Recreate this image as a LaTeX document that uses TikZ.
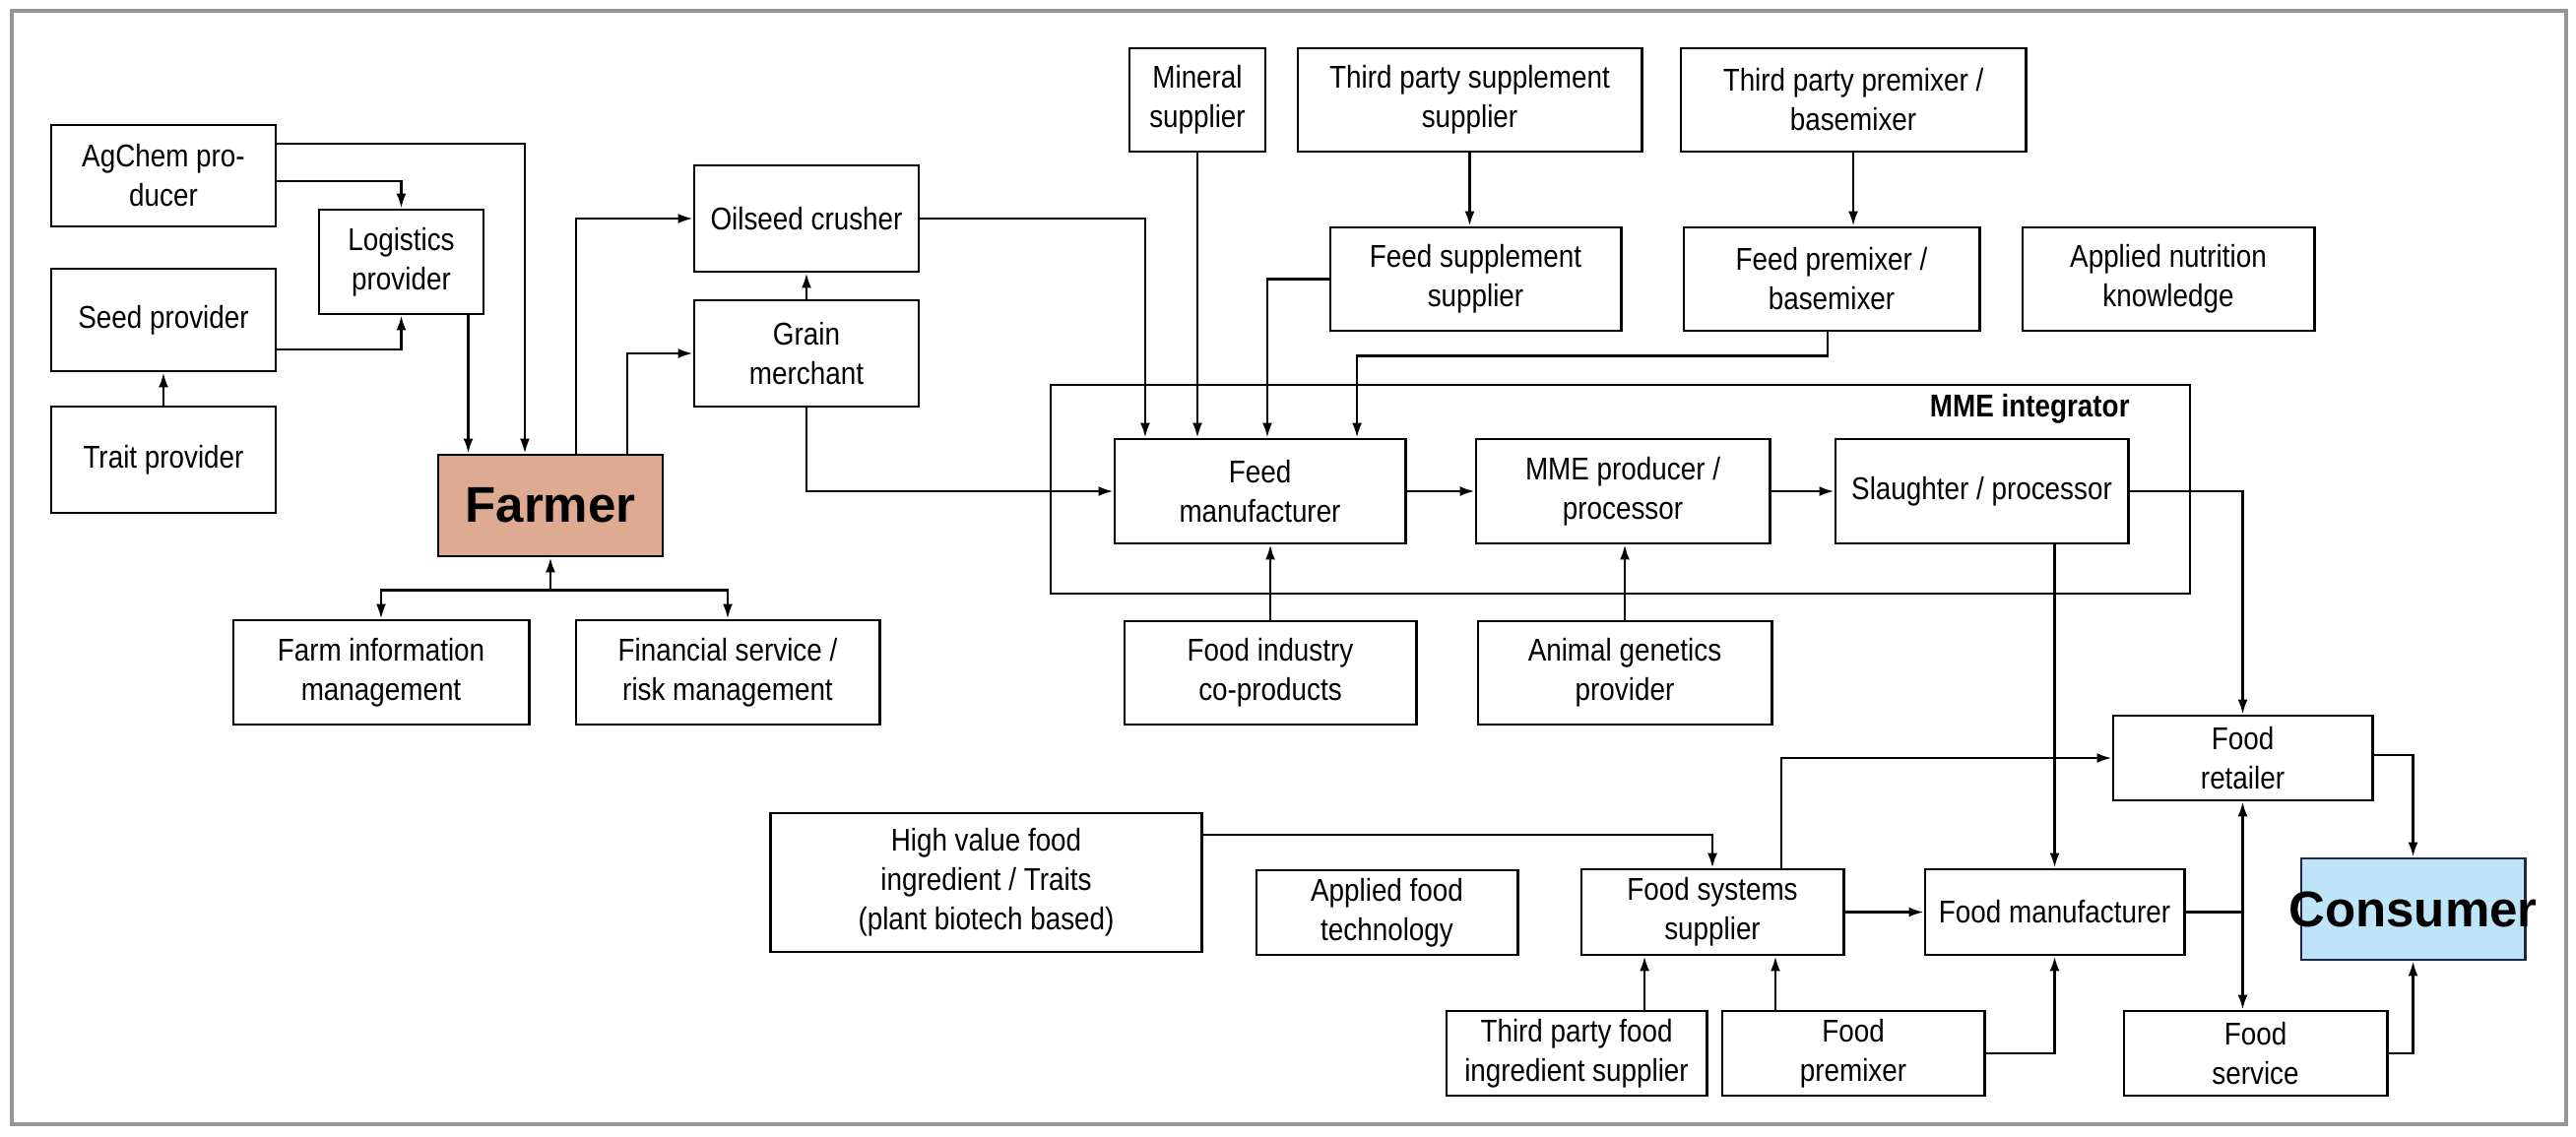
\documentclass[tikz,border=0pt]{standalone}
\usepackage{fontspec}
\setmainfont{Liberation Sans}[FakeStretch=0.87]
\newfontfamily\widesans{Liberation Sans}
\usetikzlibrary{arrows.meta}

\definecolor{farmerfill}{RGB}{222,170,145}
\definecolor{consumerfill}{RGB}{190,228,248}
\definecolor{consumerline}{RGB}{30,40,70}
\definecolor{framegray}{RGB}{150,150,150}

\tikzset{
  box/.style={draw, line width=0.8pt, align=center, inner sep=1pt,
    font=\fontsize{9.1}{11.4}\selectfont},
  sz/.style 2 args={minimum width=#1cm, minimum height=#2cm},
  arr/.style={-{Latex[length=1.5mm,width=1mm]}, line width=0.7pt},
  arrs/.style={{Latex[length=1.5mm,width=1mm]}-{Latex[length=1.5mm,width=1mm]}, line width=0.7pt},
  bigword/.style={font=\widesans\bfseries\fontsize{14.5}{17}\selectfont}
}

\begin{document}
\begin{tikzpicture}[x=0.01cm,y=-0.01cm]
  \useasboundingbox (0,0) rectangle (2616,1154);
  \draw[framegray, line width=1.2pt] (12,11) rectangle (2606,1142);

  % farm side
  \node[box, sz={2.28}{1.03}] (agchem) at (166,178.5) {AgChem pro-\\ducer};
  \node[box, sz={1.67}{1.06}] (logistics) at (407.5,266) {Logistics\\provider};
  \node[box, sz={2.28}{1.04}] (seed) at (166,325) {Seed provider};
  \node[box, sz={2.28}{1.08}] (trait) at (166,467) {Trait provider};
  \node[box, sz={2.28}{1.03}, fill=farmerfill, bigword] (farmer) at (559,513.5) {Farmer};
  \node[box, sz={3.00}{1.06}] (farminfo) at (387,683) {Farm information\\management};
  \node[box, sz={3.08}{1.06}] (financial) at (739,683) {Financial service /\\risk management};
  \node[box, sz={2.28}{1.08}] (oilseed) at (819,222) {Oilseed crusher};
  \node[box, sz={2.28}{1.08}] (grain) at (819,359) {Grain\\merchant};

  % feed suppliers
  \node[box, sz={1.38}{1.05}] (mineral) at (1216,101.5) {Mineral\\supplier};
  \node[box, sz={3.49}{1.05}] (tpsupp) at (1492.5,101.5) {Third party supplement\\supplier};
  \node[box, sz={2.95}{1.05}] (feedsupp) at (1498.5,283.5) {Feed supplement\\supplier};
  \node[box, sz={3.50}{1.05}] (tpprem) at (1882,101.5) {Third party premixer /\\basemixer};
  \node[box, sz={3.00}{1.05}] (feedprem) at (1860,283.5) {Feed premixer /\\basemixer};
  \node[box, sz={2.96}{1.05}] (nutrition) at (2202,283.5) {Applied nutrition\\knowledge};

  % MME integrator
  \draw[line width=0.8pt] (1067,391) rectangle (2224,603);
  \node[anchor=east, font=\bfseries\fontsize{9.1}{11.4}\selectfont] (mmelabel) at (2175,415) {MME integrator};
  \node[box, sz={2.95}{1.06}] (feedmfr) at (1279.5,499) {Feed\\manufacturer};
  \node[box, sz={2.98}{1.06}] (mmeprod) at (1648,499) {MME producer /\\processor};
  \node[box, sz={2.97}{1.06}] (slaughter) at (2012.5,499) {Slaughter / processor};
  \node[box, sz={2.96}{1.05}] (foodind) at (1290,683.5) {Food industry\\co-products};
  \node[box, sz={2.98}{1.05}] (genetics) at (1650,683.5) {Animal genetics\\provider};

  % food side
  \node[box, sz={4.37}{1.41}] (highvalue) at (1001.5,896.5) {High value food\\ingredient / Traits\\(plant biotech based)};
  \node[box, sz={2.65}{0.86}] (appliedfood) at (1408.5,927) {Applied food\\technology};
  \node[box, sz={2.66}{0.87}] (foodsys) at (1739,926.5) {Food systems\\supplier};
  \node[box, sz={2.64}{0.86}] (tpfood) at (1601,1070) {Third party food\\ingredient supplier};
  \node[box, sz={2.66}{0.86}] (foodprem) at (1882,1070) {Food\\premixer};
  \node[box, sz={2.63}{0.87}] (foodmfr) at (2086.5,926.5) {Food manufacturer};
  \node[box, sz={2.63}{0.86}] (retailer) at (2277.5,770) {Food\\retailer};
  \node[box, sz={2.67}{0.86}] (service) at (2290.5,1070) {Food\\service};
  \node[box, sz={2.27}{1.03}, inner xsep=-0.13cm, fill=consumerfill, draw=consumerline, bigword] (consumer) at (2450.5,923.5) {Consumer};

  % connectors, farm side
  \draw[arr] ([yshift=0.325cm]agchem.east) -| ([xshift=-0.26cm]farmer.north);
  \draw[arr] ([yshift=-0.055cm]agchem.east) -| (logistics.north);
  \draw[arr] ([yshift=-0.3cm]seed.east) -| (logistics.south);
  \draw[arr] ([xshift=0.68cm]logistics.south) -- ([xshift=0.68cm]logistics.south |- farmer.north);
  \draw[arr] (trait) -- (seed);
  \draw[arr] ([xshift=0.26cm]farmer.north) |- (oilseed.west);
  \draw[arr] ([xshift=0.78cm]farmer.north) |- (grain.west);
  \draw[arr] (grain) -- (oilseed);
  \coordinate (fj) at ([yshift=-0.33cm]farmer.south);
  \draw[arr] (fj) -- (farmer.south);
  \draw[arr] (fj) -| (farminfo.north);
  \draw[arr] (fj) -| (financial.north);

  % connectors into feed manufacturer
  \draw[arr] (grain.south) |- (feedmfr.west);
  \draw[arr] (oilseed.east) -| ([xshift=-1.165cm]feedmfr.north);
  \draw[arr] (mineral.south) -- (mineral.south |- feedmfr.north);
  \draw[arr] (feedsupp.west) -| ([xshift=0.075cm]feedmfr.north);
  \draw[arr] (tpsupp.south) -- (tpsupp.south |- feedsupp.north);
  \draw[arr] ([xshift=-0.04cm]feedprem.south) -- ++(0,-0.24cm) -| ([xshift=0.985cm]feedmfr.north);
  \draw[arr] (tpprem.south) -- (tpprem.south |- feedprem.north);
  \draw[arr] (foodind.north) -- (foodind.north |- feedmfr.south);
  \draw[arr] (genetics.north) -- (genetics.north |- mmeprod.south);
  \draw[arr] (feedmfr) -- (mmeprod);
  \draw[arr] (mmeprod) -- (slaughter);

  % connectors, food side
  \draw[arr] (slaughter.east) -| (retailer.north);
  \draw[arr] (slaughter.south -| foodmfr.north) -- (foodmfr.north);
  \draw[arr] ([yshift=0.485cm]highvalue.east) -| (foodsys.north);
  \draw[arr] ([xshift=0.7cm]foodsys.north) |- (retailer.west);
  \draw[arr] (foodsys) -- (foodmfr);
  \draw[arr] ([xshift=0.69cm]tpfood.north) -- ([xshift=0.69cm]tpfood.north |- foodsys.south);
  \draw[arr] ([xshift=-0.79cm]foodprem.north) -- ([xshift=-0.79cm]foodprem.north |- foodsys.south);
  \draw[arr] (foodprem.east) -| (foodmfr.south);
  \draw[line width=0.7pt] (foodmfr.east) -- (foodmfr.east -| retailer.south);
  \draw[arrs] (retailer.south) -- (retailer.south |- service.north);
  \draw[arr] ([yshift=0.03cm]retailer.east) -| (consumer.north);
  \draw[arr] (service.east) -| (consumer.south);
\end{tikzpicture}
\end{document}
